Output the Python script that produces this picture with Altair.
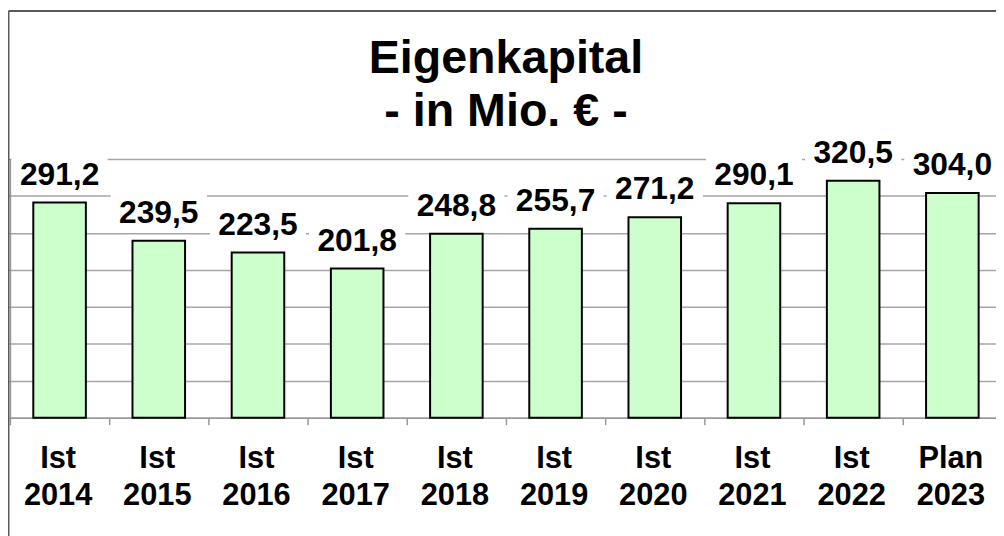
import altair as alt
import pandas as pd

status = ["Ist", "Ist", "Ist", "Ist", "Ist", "Ist", "Ist", "Ist", "Ist", "Plan"]
years = ["2014", "2015", "2016", "2017", "2018", "2019", "2020", "2021", "2022", "2023"]
values = [291.2, 239.5, 223.5, 201.8, 248.8, 255.7, 271.2, 290.1, 320.5, 304.0]
title_lines = ["Eigenkapital", " - in Mio. € -"]

df = pd.DataFrame({
    "cat": [f"{s} {y}" for s, y in zip(status, years)],
    "value": values,
})

FONT = "Liberation Sans"

x = alt.X(
    "cat:N", sort=None,
    scale=alt.Scale(range=[0, 1000], paddingInner=0, paddingOuter=0),
    axis=alt.Axis(
        title=None, labelExpr="split(datum.label, ' ')", labelFont=FONT,
        labelFontSize=31, labelFontWeight="bold", labelColor="black",
        labelLineHeight=37, labelAngle=0, labelPadding=19, labelBaseline="top",
        labelOffset=-2,
        tickBand="extent", tickSize=7, tickColor="#999999", tickWidth=1.5,
        domainColor="#999999", domainWidth=1.5, labelOverlap=False,
        labelFlush=False, labelBound=False,
    ),
)
y = alt.Y(
    "value:Q",
    scale=alt.Scale(domain=[0, 350], nice=False),
    axis=alt.Axis(
        title=None, labels=False, values=list(range(0, 351, 50)), grid=True,
        gridColor="#a6a6a6", gridWidth=1.5, ticks=True, tickSize=3,
        tickColor="#777777", domainColor="#999999", domainWidth=1.5,
    ),
)

base = alt.Chart(df).transform_calculate(
    label="replace(format(datum.value, '.1f'), '.', ',')"
)

bars = base.mark_bar(
    width=alt.RelativeBandSize(0.53), fill="#ccffcc", stroke="black", strokeWidth=2
).encode(x=x, y=y)

boxes = base.mark_point(
    shape="M-1,-0.39H1V0.39H-1Z", size=9409, filled=True, color="white",
    opacity=1, strokeWidth=0, yOffset=-30,
).encode(x=x, y=y)

texts = base.mark_text(
    font=FONT, fontSize=32, fontWeight="bold", baseline="alphabetic",
    dy=-18, color="black",
).encode(x=x, y=y, text="label:N")

one = pd.DataFrame({"a": [0]})
frame_left = alt.Chart(one).mark_rule(color="#595959", strokeWidth=2).encode(
    x=alt.value(-1.5), y=alt.value(-149), y2=alt.value(400)
)
frame_top = alt.Chart(one).mark_rule(color="#595959", strokeWidth=2).encode(
    x=alt.value(-1.5), x2=alt.value(1000), y=alt.value(-149)
)
title = alt.Chart(one).mark_text(
    text=title_lines, font=FONT, fontSize=47, fontWeight="bold", color="black",
    lineHeight=54, baseline="alphabetic", align="center",
).encode(x=alt.value(500), y=alt.value(-87))

chart = alt.layer(bars, boxes, texts, frame_left, frame_top, title).properties(
    width=994, height=261,
    autosize=alt.AutoSizeParams(type="none"),
    padding={"left": 2, "top": 150, "right": 0, "bottom": 117},
).configure_view(stroke=None).configure(background="white")

chart.save("out.html", embed_options={"renderer": "svg", "actions": False})
